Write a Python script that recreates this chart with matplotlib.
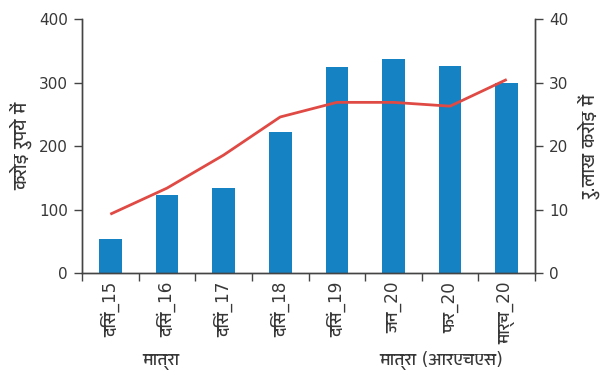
import matplotlib
matplotlib.use("Agg")
import matplotlib.pyplot as plt
from matplotlib import font_manager
import numpy as np

# Data
categories = ["दिसं_15", "दिसं_16", "दिसं_17", "दिसं_18", "दिसं_19", "जन_20", "फर_20", "मार्च_20"]
volume_crore = [54, 123, 135, 223, 325, 338, 326, 300]          # bars, left axis
value_lakh_crore = [9.3, 13.4, 18.6, 24.6, 26.9, 26.9, 26.3, 30.5]  # line, right axis

left_label = "करोड़ रुपये में"
right_label = "रु.लाख करोड़ में"
bar_name = "मात्रा"
line_name = "मात्रा (आरएचएस)"


def find_devanagari_fonts():
    """Families whose cmap covers Devanagari, proportional ones first."""
    found = []
    try:
        from fontTools.ttLib import TTFont
    except Exception:
        return found
    seen = set()
    for f in font_manager.fontManager.ttflist:
        if f.name in seen:
            continue
        try:
            tt = TTFont(f.fname, fontNumber=0, lazy=True)
            cmap = tt.getBestCmap() or {}
            if 0x0915 in cmap and 0x093F in cmap:
                found.append(f.name)
                seen.add(f.name)
        except Exception:
            pass

    def rank(name):
        n = name.lower()
        score = 0
        if "mono" in n or "code" in n:
            score += 10
        if "devanagari" in n:
            score -= 2
        if "serif" in n and "sans" not in n:
            score += 3
        if "ui" in n:
            score += 1
        return score

    found.sort(key=rank)
    return found


deva = find_devanagari_fonts()
families = ["DejaVu Sans"] + deva[:1]
plt.rcParams["font.family"] = families

BLUE = "#1582C3"
RED = "#E04A45"
TEXT = "#383838"

fig = plt.figure(figsize=(6.15, 3.83), dpi=100)
ax = fig.add_axes([0.1333, 0.2864, 0.7367, 0.6637])
ax2 = ax.twinx()

x = np.arange(len(categories))
ax.bar(x, volume_crore, width=0.4, color=BLUE, zorder=2)
ax2.plot(x, value_lakh_crore, color=RED, lw=2, zorder=3, solid_capstyle="butt")

ax.set_xlim(-0.5, len(categories) - 0.5)
ax.set_ylim(0, 400)
ax2.set_ylim(0, 40)
ax.set_yticks([0, 100, 200, 300, 400])
ax2.set_yticks([0, 10, 20, 30, 40])

# category ticks sit on the boundaries, labels in the middle
ax.set_xticks(np.arange(-0.5, len(categories), 1.0))
ax.set_xticklabels([])
ax.set_xticks(x, minor=True)
ax.set_xticklabels(categories, minor=True, rotation=90, fontsize=12.2, color=TEXT)
ax.tick_params(axis="x", which="major", length=6, width=1, color="#444444", direction="out")
ax.tick_params(axis="x", which="minor", length=0, pad=6)

for a in (ax, ax2):
    a.tick_params(axis="y", length=6, width=1, color="#444444", labelsize=11,
                  labelcolor=TEXT, pad=4)
    a.spines["top"].set_visible(False)
    for s in ("left", "right", "bottom"):
        a.spines[s].set_color("#444444")
        a.spines[s].set_linewidth(1)

ax.set_ylabel(left_label, fontsize=13, color=TEXT, labelpad=5)
ax2.set_ylabel(right_label, fontsize=13, color=TEXT, rotation=90, labelpad=7)

fig.text(0.262, 0.058, bar_name, fontsize=12.5, color=TEXT, ha="center", va="center")
fig.text(0.717, 0.058, line_name, fontsize=12.5, color=TEXT, ha="center", va="center")

fig.savefig("out.png", dpi=100)
